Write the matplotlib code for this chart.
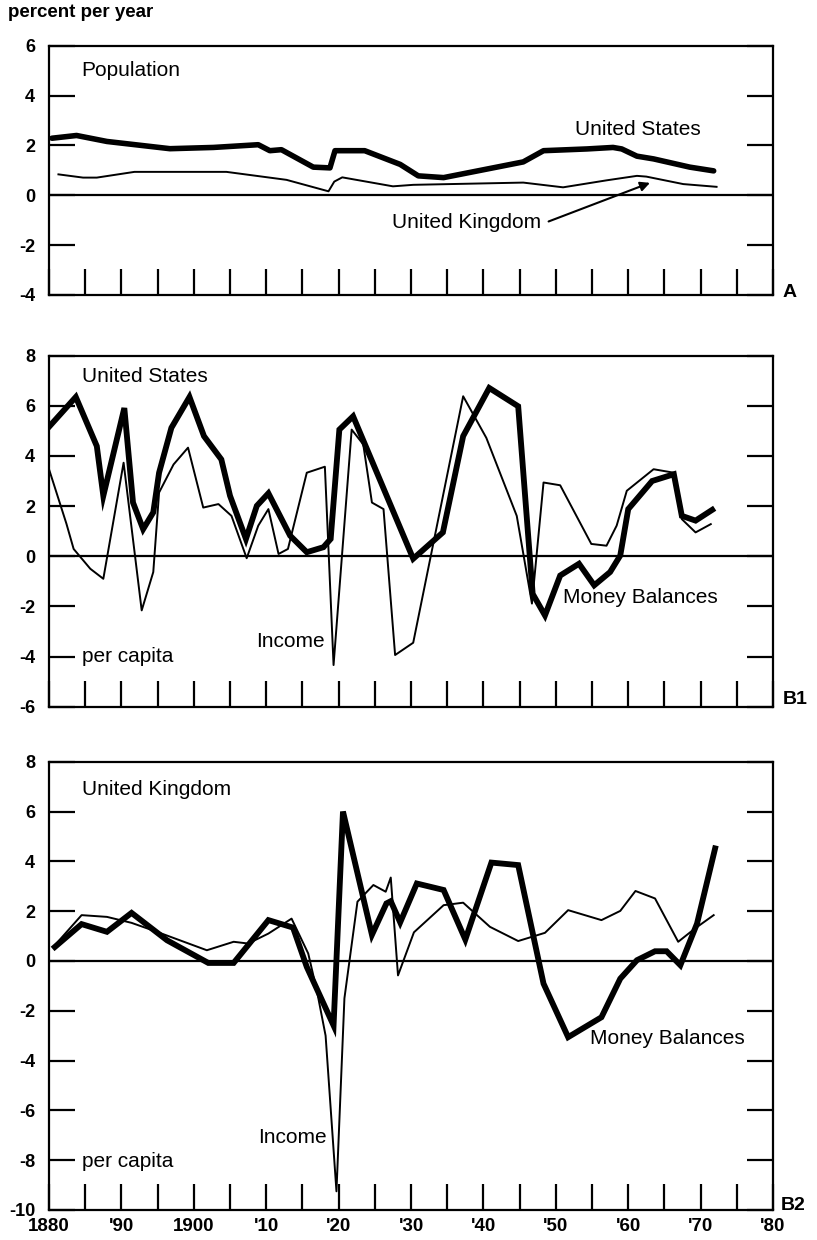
import matplotlib
matplotlib.use("Agg")
import matplotlib.pyplot as plt

plt.rcParams['font.family'] = ['Liberation Sans', 'DejaVu Sans']
plt.rcParams['axes.unicode_minus'] = False

# ---- Panel A: population growth (percent per year)
us_pop_x = [1880.4, 1883.8, 1888.0, 1896.7, 1902.7, 1908.9, 1910.5, 1912.1, 1916.5, 1918.8,
            1919.5, 1923.6, 1928.5, 1931.0, 1934.5, 1945.5, 1948.3, 1954.3, 1957.9, 1959.1,
            1961.2, 1963.5, 1968.5, 1971.8]
us_pop_y = [2.29, 2.40, 2.16, 1.87, 1.92, 2.03, 1.79, 1.83, 1.13, 1.10,
            1.79, 1.79, 1.24, 0.78, 0.71, 1.34, 1.79, 1.86, 1.92, 1.86,
            1.57, 1.46, 1.13, 0.98]
uk_pop_x = [1881.3, 1884.7, 1886.6, 1891.8, 1904.5, 1912.8, 1918.6, 1919.4, 1920.5, 1927.5,
            1930.3, 1945.5, 1951.0, 1957.0, 1961.2, 1962.5, 1967.6, 1972.2]
uk_pop_y = [0.84, 0.71, 0.71, 0.94, 0.94, 0.62, 0.16, 0.55, 0.72, 0.36,
            0.42, 0.51, 0.32, 0.60, 0.78, 0.75, 0.45, 0.34]

# ---- Panel B1: United States, per capita
us_money_x = [1880.0, 1883.7, 1886.6, 1887.5, 1890.4, 1891.6, 1893.0, 1894.4, 1895.2, 1896.9,
              1899.4, 1901.4, 1903.8, 1905.0, 1907.2, 1908.7, 1910.3, 1913.3, 1915.6, 1917.9,
              1918.9, 1920.1, 1922.0, 1930.3, 1934.4, 1937.2, 1940.8, 1944.8, 1946.8, 1948.5,
              1950.6, 1953.2, 1955.3, 1957.5, 1958.9, 1960.0, 1963.3, 1966.3, 1967.4, 1969.3,
              1971.6]
us_money_y = [5.16, 6.35, 4.39, 2.41, 5.91, 2.14, 1.08, 1.75, 3.33, 5.12,
              6.35, 4.79, 3.86, 2.41, 0.69, 2.01, 2.51, 0.82, 0.16, 0.36,
              0.69, 5.05, 5.58, -0.10, 0.95, 4.79, 6.71, 5.98, -1.50, -2.36,
              -0.77, -0.30, -1.16, -0.63, 0.03, 1.88, 3.00, 3.27, 1.61, 1.42,
              1.85]
us_income_x = [1880.0, 1882.4, 1883.4, 1885.7, 1887.5, 1890.3, 1892.8, 1894.4, 1895.2, 1897.2,
               1899.2, 1901.3, 1903.4, 1905.2, 1907.3, 1908.9, 1910.3, 1911.7, 1913.0, 1915.6,
               1918.1, 1919.3, 1921.8, 1923.4, 1924.6, 1926.2, 1927.8, 1930.3, 1937.2, 1940.4,
               1944.6, 1946.7, 1948.3, 1950.6, 1954.9, 1957.0, 1958.4, 1959.8, 1963.5, 1966.3,
               1967.4, 1969.3, 1971.4]
us_income_y = [3.47, 1.30, 0.29, -0.50, -0.90, 3.73, -2.16, -0.63, 2.54, 3.66,
               4.33, 1.94, 2.08, 1.61, -0.08, 1.22, 1.88, 0.09, 0.29, 3.33,
               3.57, -4.34, 5.05, 4.46, 2.14, 1.88, -3.94, -3.45, 6.38, 4.72,
               1.61, -1.89, 2.94, 2.83, 0.49, 0.42, 1.22, 2.61, 3.47, 3.33,
               1.48, 0.95, 1.28]

# ---- Panel B2: United Kingdom, per capita
uk_money_x = [1880.8, 1884.5, 1888.0, 1891.4, 1896.3, 1902.0, 1905.5, 1910.3, 1913.7, 1915.6,
              1919.3, 1920.6, 1924.6, 1926.6, 1927.2, 1928.5, 1930.8, 1934.5, 1937.5, 1941.1,
              1944.8, 1948.3, 1951.7, 1956.3, 1958.9, 1961.2, 1963.7, 1965.3, 1967.2, 1969.5,
              1972.0]
uk_money_y = [0.56, 1.48, 1.17, 1.93, 0.83, -0.08, -0.08, 1.64, 1.34, -0.24,
              -2.59, 6.00, 1.05, 2.31, 2.40, 1.55, 3.11, 2.85, 0.86, 3.95,
              3.85, -0.91, -3.06, -2.26, -0.71, 0.03, 0.39, 0.39, -0.17, 1.50,
              4.52]
uk_income_x = [1880.8, 1884.5, 1888.0, 1891.4, 1894.9, 1901.8, 1905.5, 1907.5, 1910.3, 1913.5,
               1915.8, 1917.0, 1918.2, 1919.7, 1920.8, 1922.6, 1924.8, 1926.5, 1927.2, 1928.2,
               1930.4, 1934.5, 1937.2, 1940.9, 1944.8, 1948.5, 1951.7, 1956.3, 1958.9, 1961.0,
               1963.7, 1966.9, 1969.2, 1971.8]
uk_income_y = [0.63, 1.84, 1.77, 1.53, 1.17, 0.43, 0.77, 0.70, 1.10, 1.70,
               0.30, -1.20, -3.00, -9.25, -1.50, 2.38, 3.05, 2.78, 3.35, -0.58,
               1.15, 2.24, 2.34, 1.37, 0.80, 1.13, 2.04, 1.64, 2.01, 2.81,
               2.51, 0.77, 1.30, 1.84]

x_ticks = list(range(1880, 1981, 5))
x_tick_labels = ['1880', '', "'90", '', '1900', '', "'10", '', "'20", '', "'30", '',
                 "'40", '', "'50", '', "'60", '', "'70", '', "'80"]

fig = plt.figure(figsize=(8.17, 12.4), dpi=100)
left, width = 0.0600, 0.8862
axA = fig.add_axes([left, 0.7621, width, 0.2010])
axB1 = fig.add_axes([left, 0.4301, width, 0.2831])
axB2 = fig.add_axes([left, 0.0242, width, 0.3615])

THICK = 4.2
THIN = 1.4
LABEL_FS = 15


def style(ax, ylim, show_x):
    ax.set_xlim(1880, 1980)
    ax.set_ylim(*ylim)
    ax.set_yticks(range(ylim[0], ylim[1] + 1, 2))
    ax.set_xticks(x_ticks)
    if show_x:
        ax.set_xticklabels(x_tick_labels)
    else:
        ax.set_xticklabels([])
    ax.tick_params(axis='y', direction='in', length=19, width=1.6, left=True, right=True,
                   labelsize=13, pad=10)
    ax.tick_params(axis='x', direction='in', length=19, width=1.6, top=False,
                   labelsize=13.5, pad=6)
    for lab in ax.get_yticklabels() + ax.get_xticklabels():
        lab.set_fontweight('bold')
    for s in ax.spines.values():
        s.set_linewidth(1.6)
    ax.axhline(0, color='black', lw=1.6, zorder=1)


style(axA, (-4, 6), False)
style(axB1, (-6, 8), False)
style(axB2, (-10, 8), True)

# Panel A
axA.plot(us_pop_x, us_pop_y, color='black', lw=4.0, solid_capstyle='round', solid_joinstyle='round')
axA.plot(uk_pop_x, uk_pop_y, color='black', lw=THIN)
axA.text(1884.4, 5.0, 'Population', fontsize=LABEL_FS, va='center', ha='left')
axA.text(1952.7, 2.62, 'United States', fontsize=LABEL_FS, va='center', ha='left')
axA.text(1948.0, -1.1, 'United Kingdom', fontsize=LABEL_FS, va='center', ha='right')
axA.annotate('', xy=(1963.0, 0.5), xytext=(1949.0, -1.05),
             arrowprops=dict(arrowstyle='-|>', lw=1.5, color='black', mutation_scale=14,
                             shrinkA=0, shrinkB=0))

# Panel B1
axB1.plot(us_money_x, us_money_y, color='black', lw=THICK, solid_joinstyle='miter')
axB1.plot(us_income_x, us_income_y, color='black', lw=THIN)
axB1.text(1884.5, 7.17, 'United States', fontsize=LABEL_FS, va='center', ha='left')
axB1.text(1884.5, -4.0, 'per capita', fontsize=LABEL_FS, va='center', ha='left')
axB1.text(1908.6, -3.41, 'Income', fontsize=LABEL_FS, va='center', ha='left')
axB1.text(1951.0, -1.63, 'Money Balances', fontsize=LABEL_FS, va='center', ha='left')

# Panel B2
axB2.plot(uk_money_x, uk_money_y, color='black', lw=THICK, solid_joinstyle='miter')
axB2.plot(uk_income_x, uk_income_y, color='black', lw=THIN)
axB2.text(1884.5, 6.88, 'United Kingdom', fontsize=LABEL_FS, va='center', ha='left')
axB2.text(1884.5, -8.07, 'per capita', fontsize=LABEL_FS, va='center', ha='left')
axB2.text(1908.9, -7.07, 'Income', fontsize=LABEL_FS, va='center', ha='left')
axB2.text(1954.7, -3.12, 'Money Balances', fontsize=LABEL_FS, va='center', ha='left')

fig.text(0.0098, 0.990, 'percent per year', fontsize=13.5, fontweight='bold', va='center', ha='left')
fig.text(0.958, 0.7645, 'A', fontsize=14, fontweight='bold', va='center', ha='left')
fig.text(0.958, 0.4355, 'B1', fontsize=14, fontweight='bold', va='center', ha='left')
fig.text(0.956, 0.0282, 'B2', fontsize=14, fontweight='bold', va='center', ha='left')

fig.savefig('out.png', dpi=100, facecolor='white')
